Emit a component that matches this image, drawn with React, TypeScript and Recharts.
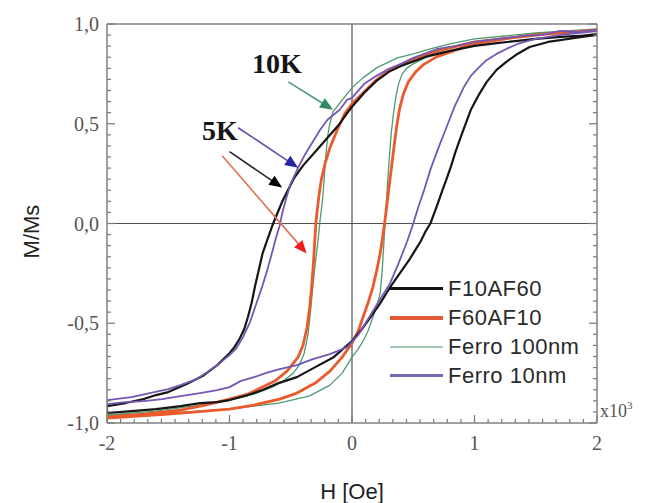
import { LineChart, Line, XAxis, YAxis, ReferenceLine, ReferenceDot } from "recharts";

type Pt = [number, number];

// H in units of 10^3 Oe, M/Ms
const f10af60Down: Pt[] = [
  [2.0, 0.95], [1.85, 0.94], [1.7, 0.935], [1.5, 0.925], [1.35, 0.915], [1.2, 0.905], [1.0, 0.89],
  [0.8, 0.865], [0.6, 0.835], [0.4, 0.79], [0.3, 0.76], [0.2, 0.715], [0.1, 0.655], [0.05, 0.62],
  [0.0, 0.585], [-0.05, 0.545], [-0.1, 0.5], [-0.2, 0.43], [-0.3, 0.36], [-0.4, 0.29], [-0.47, 0.23],
  [-0.52, 0.17], [-0.57, 0.11], [-0.61, 0.05], [-0.65, -0.01], [-0.69, -0.08], [-0.73, -0.15],
  [-0.76, -0.23], [-0.79, -0.31], [-0.82, -0.4], [-0.85, -0.47], [-0.88, -0.53], [-0.92, -0.58],
  [-0.96, -0.62], [-1.0, -0.65], [-1.1, -0.71], [-1.22, -0.765], [-1.35, -0.805], [-1.5, -0.845],
  [-1.6, -0.86], [-1.7, -0.88], [-1.85, -0.9], [-2.0, -0.915],
];
const f10af60Up: Pt[] = [
  [-2.0, -0.95], [-1.8, -0.94], [-1.6, -0.93], [-1.4, -0.915], [-1.24, -0.9], [-1.1, -0.895],
  [-1.0, -0.885], [-0.85, -0.86], [-0.73, -0.835], [-0.6, -0.8], [-0.45, -0.77], [-0.3, -0.72],
  [-0.15, -0.67], [0.0, -0.59], [0.08, -0.53], [0.15, -0.47], [0.23, -0.4], [0.31, -0.32],
  [0.39, -0.25], [0.47, -0.18], [0.52, -0.13], [0.56, -0.09], [0.6, -0.04], [0.64, 0.0], [0.67, 0.05],
  [0.7, 0.1], [0.74, 0.17], [0.77, 0.22], [0.81, 0.29], [0.84, 0.35], [0.88, 0.42], [0.91, 0.47],
  [0.97, 0.57], [1.04, 0.65], [1.1, 0.71], [1.18, 0.77], [1.26, 0.81], [1.35, 0.85], [1.45, 0.885],
  [1.6, 0.91], [1.82, 0.93], [2.0, 0.945],
];
const f60af10Down: Pt[] = [
  [2.0, 0.97], [1.5, 0.945], [1.0, 0.91], [0.7, 0.865], [0.5, 0.825], [0.3, 0.765], [0.2, 0.72],
  [0.1, 0.66], [0.0, 0.6], [-0.06, 0.55], [-0.12, 0.47], [-0.18, 0.38], [-0.22, 0.3], [-0.25, 0.22],
  [-0.27, 0.14], [-0.285, 0.06], [-0.295, 0.0], [-0.305, -0.1], [-0.315, -0.2], [-0.33, -0.32],
  [-0.345, -0.42], [-0.37, -0.53], [-0.4, -0.61], [-0.44, -0.67], [-0.53, -0.74], [-0.63, -0.79],
  [-0.73, -0.82], [-0.85, -0.855], [-1.0, -0.88], [-1.2, -0.91], [-1.4, -0.935], [-1.7, -0.955],
  [-2.0, -0.97],
];
const f60af10Up: Pt[] = [
  [-2.0, -0.975], [-1.5, -0.955], [-1.0, -0.93], [-0.8, -0.91], [-0.59, -0.88], [-0.45, -0.85],
  [-0.3, -0.8], [-0.18, -0.74], [-0.08, -0.67], [0.0, -0.6], [0.05, -0.54], [0.09, -0.47],
  [0.13, -0.4], [0.17, -0.32], [0.2, -0.24], [0.23, -0.15], [0.25, -0.07], [0.27, 0.02], [0.29, 0.12],
  [0.31, 0.22], [0.33, 0.32], [0.35, 0.42], [0.37, 0.51], [0.39, 0.58], [0.42, 0.65], [0.46, 0.71],
  [0.52, 0.76], [0.58, 0.795], [0.69, 0.835], [0.85, 0.87], [1.0, 0.9], [1.3, 0.93], [1.6, 0.95],
  [2.0, 0.97],
];
const ferro100Down: Pt[] = [
  [2.0, 0.975], [1.5, 0.955], [1.0, 0.925], [0.8, 0.9], [0.64, 0.875], [0.5, 0.85], [0.37, 0.83],
  [0.2, 0.78], [0.09, 0.73], [0.0, 0.68], [-0.08, 0.62], [-0.155, 0.56], [-0.185, 0.49], [-0.2, 0.43],
  [-0.215, 0.33], [-0.225, 0.24], [-0.24, 0.12], [-0.26, 0.02], [-0.28, -0.1], [-0.3, -0.2],
  [-0.32, -0.32], [-0.34, -0.45], [-0.36, -0.56], [-0.39, -0.65], [-0.43, -0.71], [-0.48, -0.75],
  [-0.56, -0.79], [-0.65, -0.82], [-0.8, -0.855], [-1.0, -0.885], [-1.3, -0.915], [-1.6, -0.94],
  [-2.0, -0.96],
];
const ferro100Up: Pt[] = [
  [-2.0, -0.965], [-1.5, -0.95], [-1.0, -0.93], [-0.6, -0.9], [-0.35, -0.865], [-0.18, -0.81],
  [-0.08, -0.75], [0.0, -0.67], [0.05, -0.63], [0.09, -0.59], [0.13, -0.54], [0.17, -0.47],
  [0.2, -0.42], [0.23, -0.35], [0.245, -0.25], [0.255, -0.15], [0.265, -0.05], [0.275, 0.05],
  [0.29, 0.2], [0.305, 0.33], [0.32, 0.45], [0.34, 0.56], [0.36, 0.64], [0.38, 0.7], [0.41, 0.75],
  [0.45, 0.78], [0.5, 0.8], [0.64, 0.845], [0.8, 0.88], [1.0, 0.91], [1.5, 0.95], [2.0, 0.975],
];
const ferro10Down: Pt[] = [
  [2.0, 0.97], [1.85, 0.96], [1.7, 0.965], [1.55, 0.945], [1.4, 0.94], [1.2, 0.925], [1.0, 0.91],
  [0.85, 0.89], [0.7, 0.875], [0.5, 0.83], [0.4, 0.8], [0.3, 0.775], [0.2, 0.74], [0.1, 0.7],
  [0.0, 0.63], [-0.04, 0.62], [-0.1, 0.57], [-0.2, 0.52], [-0.26, 0.47], [-0.32, 0.41], [-0.38, 0.35],
  [-0.44, 0.28], [-0.5, 0.2], [-0.54, 0.12], [-0.57, 0.05], [-0.59, -0.01], [-0.62, -0.07],
  [-0.65, -0.14], [-0.69, -0.23], [-0.73, -0.31], [-0.78, -0.4], [-0.83, -0.49], [-0.89, -0.57],
  [-0.95, -0.63], [-1.0, -0.66], [-1.08, -0.7], [-1.17, -0.74], [-1.27, -0.78], [-1.4, -0.81],
  [-1.5, -0.83], [-1.65, -0.85], [-1.8, -0.87], [-2.0, -0.885],
];
const ferro10Up: Pt[] = [
  [-2.0, -0.905], [-1.85, -0.895], [-1.7, -0.89], [-1.55, -0.88], [-1.4, -0.865], [-1.24, -0.85],
  [-1.1, -0.835], [-1.0, -0.82], [-0.91, -0.79], [-0.8, -0.77], [-0.68, -0.745], [-0.59, -0.73],
  [-0.45, -0.71], [-0.32, -0.68], [-0.18, -0.655], [-0.04, -0.62], [0.05, -0.56], [0.15, -0.46],
  [0.23, -0.38], [0.31, -0.3], [0.38, -0.2], [0.45, -0.09], [0.5, 0.0], [0.54, 0.08], [0.59, 0.17],
  [0.64, 0.27], [0.7, 0.37], [0.77, 0.48], [0.84, 0.59], [0.91, 0.68], [0.97, 0.74], [1.04, 0.785],
  [1.1, 0.82], [1.18, 0.85], [1.26, 0.875], [1.35, 0.9], [1.5, 0.925], [1.7, 0.945], [2.0, 0.965],
];

const xMajor = [-2, -1, 0, 1, 2];
const yMajor = [-1, -0.5, 0, 0.5, 1];

// annotation arrows (data coords)
const arrows = [
  { from: [-0.52, 0.71], to: [-0.155, 0.57], line: "#4a9e74", head: "#2f8a5f" },
  { from: [-0.93, 0.48], to: [-0.44, 0.28], line: "#5c4eaa", head: "#2424a4" },
  { from: [-1.0, 0.36], to: [-0.57, 0.18], line: "#222", head: "#000" },
  { from: [-1.06, 0.34], to: [-0.37, -0.15], line: "#e07052", head: "#ee1d1d" },
];
const tempLabels = [
  { text: "10K", at: [-0.816, 0.754] },
  { text: "5K", at: [-1.224, 0.418] },
];

const series = [
  { name: "F10AF60", down: f10af60Down, up: f10af60Up, color: "#161616", width: 2.2, legend: "#111", lw: 3 },
  { name: "F60AF10", down: f60af10Down, up: f60af10Up, color: "#ea5a2d", width: 2.8, legend: "#e05a36", lw: 4 },
  { name: "Ferro 100nm", down: ferro100Down, up: ferro100Up, color: "#4e9a72", width: 1.3, legend: "#a4c9b0", lw: 2 },
  { name: "Ferro 10nm", down: ferro10Down, up: ferro10Up, color: "#7557b3", width: 1.8, legend: "#7a68b4", lw: 3 },
];
const drawOrder = [2, 1, 0, 3];

const SERIF = '"Liberation Serif", "Times New Roman", serif';
const SANS = '"Liberation Sans", Arial, sans-serif';
const TICK = "#7a7a7a";
const LABEL = "#555";

const subdivide = (majors: number[]) =>
  majors
    .slice(0, -1)
    .flatMap((v, i) => Array.from({ length: 9 }, (_, k) => v + (k * (majors[i + 1] - v)) / 9))
    .concat(majors[majors.length - 1]);
const xTicks = subdivide(xMajor);
const yTicks = subdivide(yMajor);

const fmtX = (v: number) => `${Math.round(v)}`;
const fmtY = (v: number) => v.toFixed(1).replace(".", ",");

function makeTick(side: "bottom" | "top" | "left" | "right", majors: number[], fmt?: (v: number) => string) {
  return (props: any) => {
    const { x, y, payload } = props;
    const v = payload.value;
    const major = majors.some((m) => Math.abs(m - v) < 1e-6);
    const len = major ? 8 : 4;
    let line;
    let label = null;
    if (side === "bottom") {
      line = <line x1={x} x2={x} y1={y} y2={y - len} />;
      if (major && fmt)
        label = (
          <text x={x} y={y + 27} textAnchor="middle" fill={LABEL} fontSize={20} fontFamily={SERIF}>
            {fmt(v)}
          </text>
        );
    } else if (side === "top") {
      line = <line x1={x} x2={x} y1={y} y2={y + len} />;
    } else if (side === "left") {
      line = <line x1={x} x2={x + len} y1={y} y2={y} />;
      if (major && fmt)
        label = (
          <text x={x - 8} y={y} dy="0.35em" textAnchor="end" fill={LABEL} fontSize={20} fontFamily={SERIF}>
            {fmt(v)}
          </text>
        );
    } else {
      line = <line x1={x} x2={x - len} y1={y} y2={y} />;
    }
    return (
      <g>
        <g stroke={TICK} strokeWidth={1.2}>{line}</g>
        {label}
      </g>
    );
  };
}

const Arrow = (p: any) => {
  const { x1, y1, x2, y2, line, head } = p;
  const dx = x2 - x1;
  const dy = y2 - y1;
  const d = Math.hypot(dx, dy) || 1;
  const ux = dx / d;
  const uy = dy / d;
  const hl = 13;
  const hw = 5.5;
  const bx = x2 - ux * hl;
  const by = y2 - uy * hl;
  return (
    <g>
      <line x1={x1} y1={y1} x2={bx + ux * 2} y2={by + uy * 2} stroke={line} strokeWidth={1.6} />
      <polygon
        points={`${x2},${y2} ${bx - uy * hw},${by + ux * hw} ${bx + uy * hw},${by - ux * hw}`}
        fill={head}
      />
    </g>
  );
};

const axisLine = { stroke: "#808080", strokeWidth: 1.5 };

export default function App() {
  return (
    <div style={{ position: "absolute", left: 0, top: 0, width: 650, height: 503, background: "#fff" }}>
      <LineChart width={650} height={503} margin={{ top: 23, right: 52, bottom: 40, left: 47 }}>
        <XAxis
          xAxisId="b"
          dataKey="h"
          type="number"
          domain={[-2, 2]}
          ticks={xTicks}
          interval={0}
          allowDataOverflow
          tickSize={0}
          tickMargin={0}
          height={40}
          axisLine={axisLine}
          tickLine={false}
          tick={makeTick("bottom", xMajor, fmtX)}
          label={{
            content: (lp: any) => {
              const vb = lp.viewBox;
              return (
                <text x={vb.x + vb.width / 2} y={vb.y + 76} textAnchor="middle" fontSize={22} fontFamily={SANS} fill="#222">
                  H [Oe]
                </text>
              );
            },
          }}
        />
        <XAxis
          xAxisId="t"
          orientation="top"
          type="number"
          domain={[-2, 2]}
          ticks={xTicks}
          interval={0}
          allowDataOverflow
          tickSize={0}
          tickMargin={0}
          height={1}
          axisLine={axisLine}
          tickLine={false}
          tick={makeTick("top", xMajor)}
        />
        <YAxis
          yAxisId="l"
          type="number"
          domain={[-1, 1]}
          ticks={yTicks}
          interval={0}
          allowDataOverflow
          tickSize={0}
          tickMargin={0}
          width={60}
          axisLine={axisLine}
          tickLine={false}
          tick={makeTick("left", yMajor, fmtY)}
          label={{
            content: (lp: any) => {
              const vb = lp.viewBox;
              const cx = vb.x - 16;
              const cy = vb.y + vb.height / 2 + 8;
              return (
                <text x={cx} y={cy} transform={`rotate(-90 ${cx} ${cy})`} textAnchor="middle" dy="0.35em" fontSize={22} fontFamily={SANS} fill="#222">
                  M/Ms
                </text>
              );
            },
          }}
        />
        <YAxis
          yAxisId="r"
          orientation="right"
          type="number"
          domain={[-1, 1]}
          ticks={yTicks}
          interval={0}
          allowDataOverflow
          tickSize={0}
          tickMargin={0}
          width={1}
          axisLine={axisLine}
          tickLine={false}
          tick={makeTick("right", yMajor)}
          label={{
            content: (lp: any) => {
              const vb = lp.viewBox;
              return (
                <text x={vb.x + 3} y={vb.y + vb.height - 6} fontSize={18} fontFamily={SERIF} fill={LABEL}>
                  x10<tspan dy={-8} fontSize={11}>3</tspan>
                </text>
              );
            },
          }}
        />

        <ReferenceLine xAxisId="b" yAxisId="l" x={0} stroke="#505050" strokeWidth={1.2} />
        <ReferenceLine xAxisId="b" yAxisId="l" y={0} stroke="#505050" strokeWidth={1.2} />

        {drawOrder.map((i) => {
          const s = series[i];
          const data = [...s.down, ...s.up].map(([h, m]) => ({ h, m }));
          return (
            <Line
              key={s.name}
              xAxisId="b"
              yAxisId="l"
              data={data}
              dataKey="m"
              name={s.name}
              type="linear"
              stroke={s.color}
              strokeWidth={s.width}
              strokeLinejoin="round"
              dot={false}
              activeDot={false}
              isAnimationActive={false}
            />
          );
        })}

        {arrows.map((a, i) => (
          <ReferenceLine
            key={`arrow-${i}`}
            xAxisId="b"
            yAxisId="l"
            segment={[
              { x: a.from[0], y: a.from[1] },
              { x: a.to[0], y: a.to[1] },
            ]}
            shape={(p: any) => <Arrow {...p} line={a.line} head={a.head} />}
          />
        ))}
        {tempLabels.map((t) => (
          <ReferenceDot
            key={t.text}
            xAxisId="b"
            yAxisId="l"
            x={t.at[0]}
            y={t.at[1]}
            r={0}
            shape={(p: any) => (
              <text x={p.cx} y={p.cy} fontSize={28} fontWeight="bold" fontFamily={SERIF} fill="#151515">
                {t.text}
              </text>
            )}
          />
        ))}
      </LineChart>

      <div style={{ position: "absolute", left: 390, top: 274, fontFamily: SANS, fontSize: 22, color: "#2a2a2a" }}>
        {series.map((s) => (
          <div key={s.name} style={{ display: "flex", alignItems: "center", height: 29 }}>
            <span style={{ display: "inline-block", width: 53, height: s.lw, background: s.legend, marginRight: 5 }} />
            <span style={{ lineHeight: "29px", letterSpacing: 0.5 }}>{s.name}</span>
          </div>
        ))}
      </div>
    </div>
  );
}
